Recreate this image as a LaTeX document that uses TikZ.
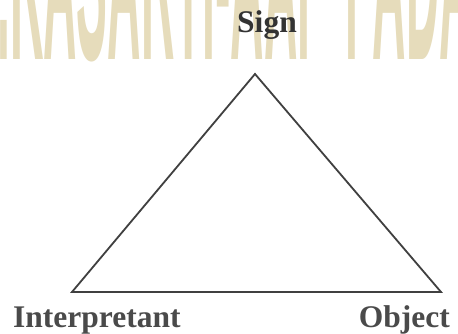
\documentclass[tikz,border=0pt]{standalone}
\usepackage{fontspec}
\setmainfont{Liberation Serif}
\newfontfamily\wmfont{Liberation Sans}
\definecolor{wmcol}{HTML}{E6DCBB}
\definecolor{edgecol}{HTML}{404040}
\definecolor{labcol}{HTML}{4A4A4A}
\definecolor{signcol}{HTML}{333333}
\tikzset{
  lab/.style={font=\fontsize{31.5}{36}\selectfont\bfseries, text=labcol, inner sep=0pt},
  edge/.style={draw=edgecol, line width=1.8pt, line join=miter},
  wm/.style={font=\wmfont\bfseries\fontsize{125}{130}\selectfont, text=wmcol, inner sep=0pt}
}
\begin{document}
\begin{tikzpicture}[x=1pt,y=-1pt]
\useasboundingbox (0,0) rectangle (458,334);
\fill[white] (0,0) rectangle (458,334);
\begin{scope}
\clip (0,0) rectangle (458,334);
\node[wm, anchor=base west] (wmark) at (-3,60) {\scalebox{0.37}[2.1]{.KASARTI-AAI}};
\node[wm, anchor=base west] (wmark2) at (345,60) {\scalebox{0.37}[2.1]{PADA}};
\end{scope}
\coordinate (apex) at (255,74);
\coordinate (bl) at (72,292);
\coordinate (br) at (441,292);
\draw[edge] (apex) -- (bl) -- (br) -- cycle;
\node[lab, text=signcol, anchor=base] (sign) at (267,33) {Sign};
\node[lab, anchor=base west] (interp) at (13,327) {Interpretant};
\node[lab, anchor=base east] (obj) at (450,327) {Object};
\end{tikzpicture}
\end{document}
